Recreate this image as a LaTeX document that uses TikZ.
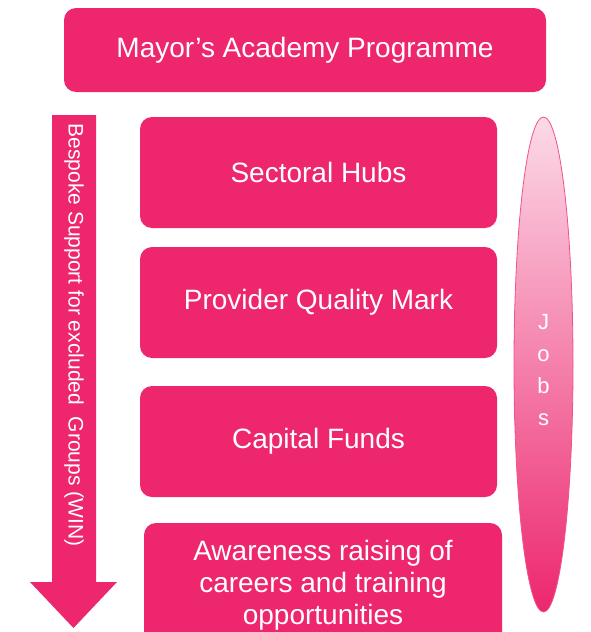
\documentclass[tikz,border=0pt]{standalone}
\usepackage{fontspec}
\setmainfont{Liberation Sans}
\definecolor{mapink}{RGB}{237,38,110}
\definecolor{mapinklight}{RGB}{252,218,232}

\begin{document}
\begin{tikzpicture}[x=1pt,y=-1pt,line cap=round,line join=round,
  box/.style={fill=mapink,rounded corners=12pt,text=white,align=center,inner sep=0pt,
    font=\fontsize{28}{32}\selectfont},
  stepbox/.style={box,minimum width=357pt,minimum height=111pt}]
  \useasboundingbox (0,0) rectangle (591,632);
  \clip (0,0) rectangle (591,632);
  \node[box,minimum width=482pt,minimum height=84pt] (academy) at (305,50) {\raisebox{-3pt}{Mayor’s Academy Programme}};
  \node[stepbox] (hubs) at (318.5,172.5) {Sectoral Hubs};
  \node[stepbox] (mark) at (318.5,302.5) {Provider Quality Mark};
  \node[stepbox] (funds) at (318.5,441.5) {Capital Funds};
  \node[box,minimum width=358pt,minimum height=124pt] (aware) at (323,585)
    {Awareness raising of\\careers and training\\opportunities};
  % down arrow on the left
  \fill[mapink] (52,115) -- (96,115) -- (96,582) -- (117,582) -- (73.5,628)
    -- (30,582) -- (52,582) -- cycle;
  \node[rotate=-90,text=white,font=\fontsize{21}{24}\selectfont] (win) at (74,335)
    {Bespoke Support for excluded\ \ Groups (WIN)};
  % jobs ellipse on the right
  \shade[top color=mapinklight,bottom color=mapink,draw=mapink!80,line width=.8pt]
    (543.5,364.5) ellipse (29.5 and 247.5);
  \node[text=white,align=center,font=\fontsize{22}{32}\selectfont] (jobs) at (543.5,370)
    {J\\o\\b\\s};
\end{tikzpicture}
\end{document}
